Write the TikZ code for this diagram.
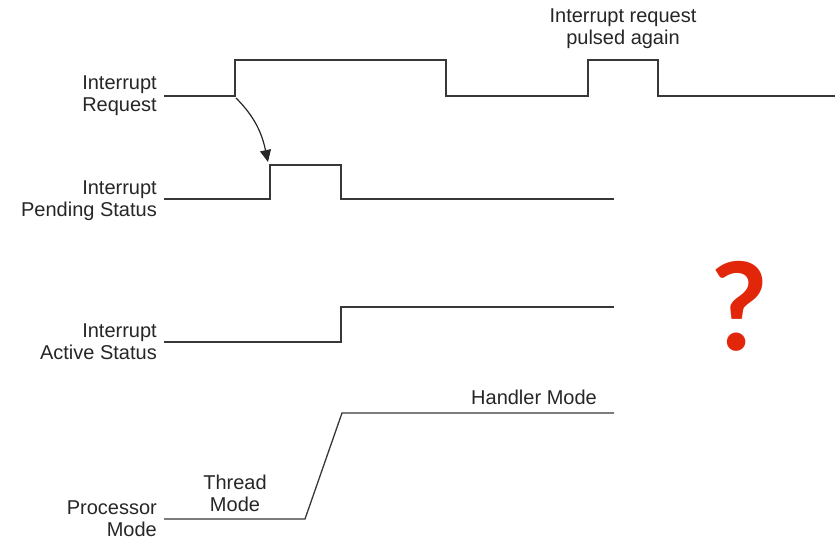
\documentclass[tikz,border=0pt]{standalone}
\usepackage{fontspec}
\setmainfont{Liberation Sans}
\newfontfamily\qfont{Lato}
\usetikzlibrary{arrows.meta}
\definecolor{sig}{RGB}{55,55,55}
\definecolor{qred}{RGB}{226,38,10}
\tikzset{
  signal/.style={draw=sig, line width=1.3pt, line join=miter},
  lbl/.style={font=\fontsize{20}{22}\selectfont, inner sep=0pt, align=right, anchor=east, text=black!85},
  clbl/.style={font=\fontsize{20}{22}\selectfont, inner sep=0pt, align=center, text=black!85},
}
\begin{document}
\begin{tikzpicture}[x=1pt,y=-1pt]
\useasboundingbox (0,0) rectangle (836,540);
% labels
\node[lbl] (lreq) at (157,96) {Interrupt\\Request};
\node[lbl] (lpend) at (157,201) {Interrupt\\Pending Status};
\node[lbl] (lact) at (157,342) {Interrupt\\Active Status};
\node[lbl] (lproc) at (157,519) {Processor\\Mode};
\node[clbl] (lthread) at (235,493) {Thread\\Mode};
\node[clbl] (lhandler) at (534,397) {Handler Mode};
\node[clbl] (lpulse) at (623,29) {Interrupt request\\pulsed again};
% interrupt request
\coordinate (r0) at (164,96);
\coordinate (r1) at (235,96);
\coordinate (r2) at (446,96);
\coordinate (r3) at (588,96);
\coordinate (r4) at (658,96);
\coordinate (r5) at (835,96);
\draw[signal] (r0) -- (r1) -- (235,60) -- (446,60) -- (r2) -- (r3) -- (588,60) -- (658,60) -- (r4) -- (r5);
% pending
\coordinate (p0) at (164,199);
\coordinate (p1) at (270,199);
\coordinate (p1t) at (270,165);
\coordinate (p2) at (341,199);
\coordinate (p3) at (614,199);
\draw[signal] (p0) -- (p1) -- (p1t) -- (341,165) -- (p2) -- (p3);
% active
\coordinate (a0) at (164,342);
\coordinate (a1) at (341,342);
\coordinate (a2) at (614,307);
\draw[signal] (a0) -- (a1) -- (341,307) -- (a2);
% processor mode
\coordinate (m0) at (164,519);
\coordinate (m1) at (305,519);
\coordinate (m2) at (342,413);
\coordinate (m3) at (614,413);
\draw[signal] (m0) -- (m1) -- (m2) -- (m3);
% arrow
\coordinate (as) at (236,98);
\coordinate (ae) at (268,162);
\draw[draw=black!85, line width=1.2pt, -{Triangle[length=12pt,width=11pt]}] (as) to[out=-45, in=102] (ae);
% question mark
\node[text=qred, inner sep=0pt, font=\qfont\bfseries\fontsize{122}{122}\selectfont] (q) at (740,306) {?};
\end{tikzpicture}
\end{document}
